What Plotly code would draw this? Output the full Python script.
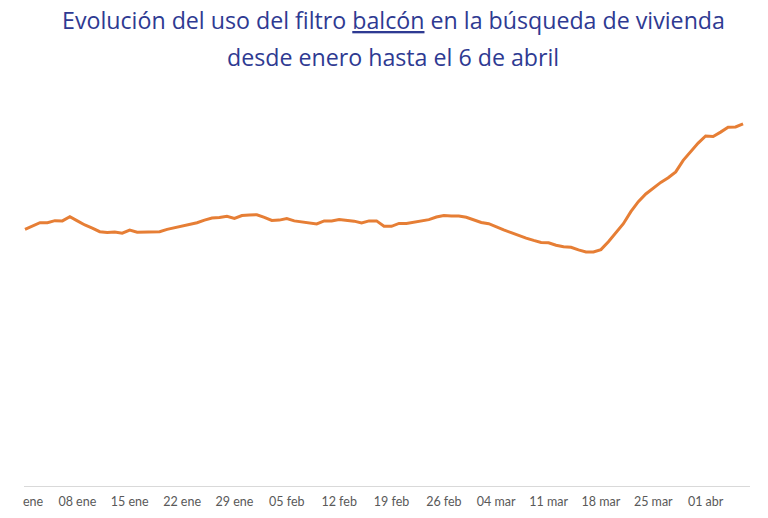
import plotly.graph_objects as go
import pandas as pd

# Daily index of "balcón" filter use (Jan 1 = 100), 1 Jan - 6 Apr 2020
start_date = "2020-01-01"
values = [
    100.0, 101.3, 102.6, 102.6, 103.4, 103.3, 104.9, 103.3, 101.7, 100.5,
    99.1, 98.8, 99.0, 98.5, 99.7, 98.9, 98.9, 99.0, 99.1, 100.0,
    100.6, 101.2, 101.9, 102.6, 103.6, 104.4, 104.6, 105.1, 104.3, 105.4,
    105.6, 105.7, 104.7, 103.5, 103.6, 104.2, 103.3, 102.9, 102.6, 102.1,
    103.3, 103.3, 103.8, 103.4, 103.2, 102.5, 103.3, 103.3, 101.2, 101.2,
    102.3, 102.3, 102.8, 103.4, 103.8, 104.8, 105.4, 105.2, 105.2, 104.7,
    103.6, 102.7, 102.2, 100.9, 99.8, 98.7, 97.5, 96.6, 95.7, 94.9,
    94.8, 93.8, 93.2, 93.0, 92.0, 91.2, 91.2, 92.1, 95.2, 98.6,
    102.2, 106.9, 110.8, 113.8, 116.2, 118.3, 120.1, 122.4, 126.9, 130.4,
    133.6, 136.4, 136.2, 137.9, 139.8, 139.9, 141.1,
]
dates = pd.date_range(start_date, periods=len(values), freq="D")

tick_dates = pd.date_range("2020-01-01", "2020-04-01", freq="7D")
tick_labels = ["\u00a0\u00a0\u00a0\u00a0\u00a0ene", "08 ene", "15 ene", "22 ene", "29 ene",
               "05 feb", "12 feb", "19 feb", "26 feb", "04 mar", "11 mar",
               "18 mar", "25 mar", "01 abr"]

title_lines = ["Evolución del uso del filtro <u>balcón</u> en la búsqueda de vivienda",
               "desde enero hasta el 6 de abril"]

fig = go.Figure()
fig.add_trace(go.Scatter(
    x=dates, y=values, mode="lines",
    line=dict(color="#E67E35", width=3),
    hoverinfo="skip", showlegend=False,
))

ML, MR, MT, MB = 16, 26, 72, 40
W, H = 768, 518
plot_w = W - ML - MR
plot_h = H - MT - MB
anns = []
for txt, px in zip(title_lines, [12, 49]):
    anns.append(dict(text=txt, xref="paper", yref="paper",
                     x=(393 - 8 - ML) / plot_w, y=(H - MB - px) / plot_h,
                     showarrow=False, xanchor="center", yanchor="middle",
                     font=dict(family="Open Sans", size=23.2, color="#2E3A92")))

fig.update_layout(
    width=W, height=H,
    margin=dict(l=ML, r=MR, t=MT, b=MB, autoexpand=False),
    paper_bgcolor="white", plot_bgcolor="white",
    annotations=anns,
    xaxis=dict(
        range=["2019-12-31 20:48", "2020-04-06 22:20"],
        tickmode="array", tickvals=tick_dates, ticktext=tick_labels,
        showgrid=False, zeroline=False, automargin=False,
        showline=True, linecolor="#D9D9D9", linewidth=1,
        ticks="", ticklabelstandoff=4, ticklabeloverflow="allow",
        tickfont=dict(family="Lato", size=12.5, color="#595959"),
    ),
    yaxis=dict(range=[0, 158.2], visible=False, showgrid=False, automargin=False),
)

fig.write_html("out.html")
